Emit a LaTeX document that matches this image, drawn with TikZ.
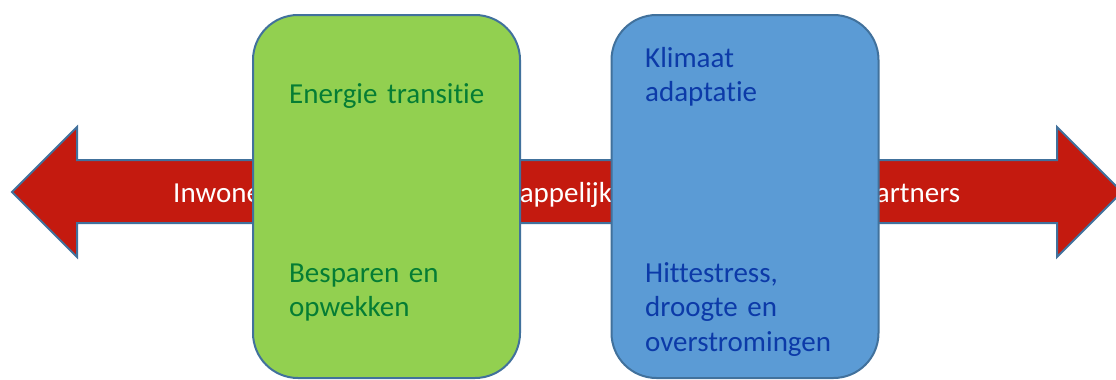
\documentclass[tikz,border=0pt]{standalone}
\usepackage{fontspec}
\setmainfont{Carlito}[Ligatures=NoCommon]
\definecolor{bandred}{RGB}{196,26,15}
\definecolor{edgeblue}{RGB}{65,113,156}
\definecolor{boxgreen}{RGB}{146,208,80}
\definecolor{textgreen}{RGB}{5,125,52}
\definecolor{boxblue}{RGB}{91,155,213}
\definecolor{textblue}{RGB}{12,58,168}
\begin{document}
\begin{tikzpicture}[x=1pt, y=-1pt,
    band/.style={draw=edgeblue, line width=2pt, fill=bandred},
    bandtext/.style={text=white, inner sep=0pt, anchor=base west, font=\fontsize{29}{34.5}\selectfont},
    themebox/.style={draw=edgeblue, line width=2pt, rounded corners=45pt, minimum width=267pt, minimum height=363pt, inner sep=0pt},
    boxtext/.style={inner sep=0pt, anchor=base west, text width=230pt, align=left, font=\fontsize{29}{34.5}\selectfont}]
          \useasboundingbox (0,0) rectangle (1116,380);
          \draw[band] (12,192) -- (77,127) -- (77,160) -- (1057,160) -- (1057,127) -- (1122,192)
            -- (1057,257) -- (1057,223) -- (77,223) -- (77,257) -- cycle;
          \node[bandtext] (partners) at (173,202) {Inwoners, bedrijven, maatschappelijke partijen en overige partners};
          \node[themebox, fill=boxgreen] (energie) at (386.5,196.5) {};
          \node[themebox, fill=boxblue] (klimaat) at (745,196.5) {};
          \node[boxtext, text=textgreen] (energietitel) at (289,103) {Energie transitie};
          \node[boxtext, text=textgreen] (energiedoel) at (289,282) {Besparen en\\opwekken};
          \node[boxtext, text=textblue] (klimaattitel) at (645,67) {Klimaat\\adaptatie};
          \node[boxtext, text=textblue] (klimaatdoel) at (645,282) {Hittestress,\\droogte en\\overstromingen};
        \end{tikzpicture}
\end{document}
